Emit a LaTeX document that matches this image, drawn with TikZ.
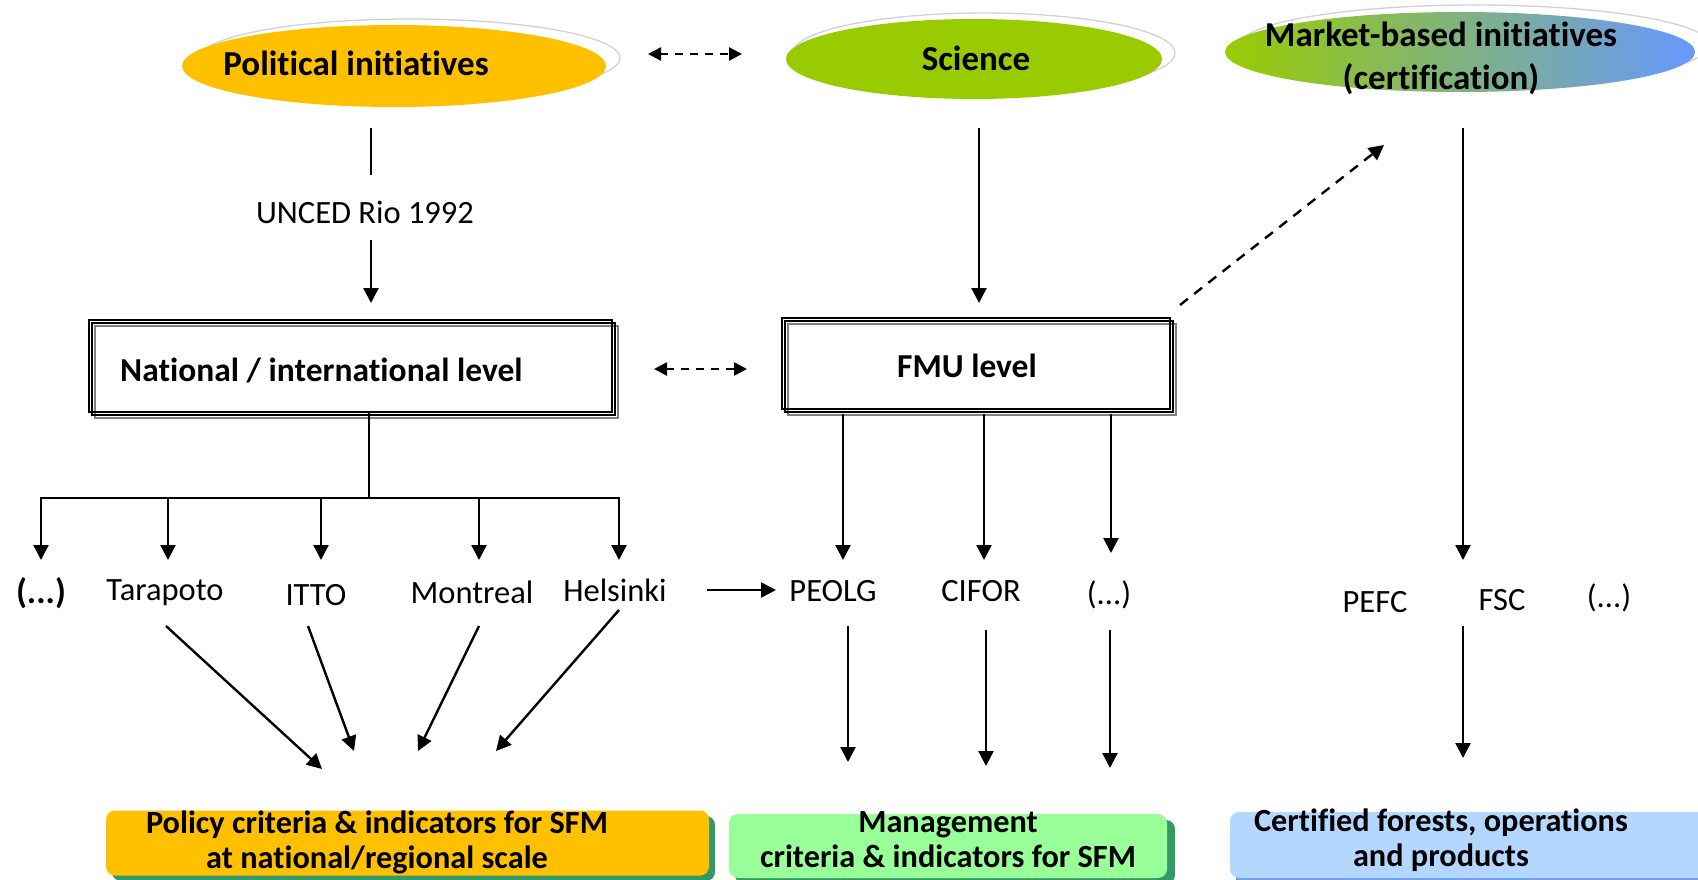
\documentclass[tikz,border=0pt]{standalone}
\usepackage{fontspec}
\setmainfont{Carlito}[RawFeature={-liga;-clig;-dlig}]
\usetikzlibrary{arrows.meta,shapes.geometric,calc}
\definecolor{polyellow}{HTML}{FFC000}
\definecolor{scigreen}{HTML}{99CC00}
\definecolor{mkblue}{HTML}{6699FF}
\definecolor{mgmtgreen}{HTML}{99FF99}
\definecolor{shgreen}{HTML}{339966}
\definecolor{certblue}{HTML}{B3D7FF}
\definecolor{certshadow}{HTML}{6E9CF0}
\begin{document}
\begin{tikzpicture}[x=1pt,y=-1pt,
  btext/.style={font=\fontsize{33.5}{40}\selectfont\bfseries, inner sep=0pt},
  ttext/.style={font=\fontsize{35}{43}\selectfont\bfseries, inner sep=0pt},
  ltext/.style={font=\fontsize{32.5}{38}\selectfont, inner sep=0pt},
  boxtext/.style={font=\fontsize{32.3}{35}\selectfont\bfseries, inner sep=0pt, align=center},
  arr/.style={-{Triangle[length=15pt,width=15pt]}, line width=2.4pt},
  ln/.style={line width=2.4pt},
  dasharr/.style={{Triangle[length=13pt,width=13pt]}-{Triangle[length=13pt,width=13pt]}, line width=2.4pt, dash pattern=on 8pt off 7pt},
  dashone/.style={-{Triangle[length=15pt,width=15pt]}, line width=2.4pt, dash pattern=on 10pt off 8pt},
  halo/.style={draw=gray!35, line width=1.3pt},
  tribox/.style={draw, line width=1.6pt, inner sep=0pt},
  ovalnode/.style={ellipse, inner sep=0pt},
  cibox/.style={rounded corners=9pt, inner sep=0pt}
]
\useasboundingbox (0,0) rectangle (1698,880);
\fill[white] (0,0) rectangle (1698,880);

% ---------- top ellipses ----------
\draw[halo] (410,58) ellipse [x radius=210pt, y radius=39pt];
\node[ovalnode, fill=polyellow, minimum width=424pt, minimum height=82pt] (pol) at (394,66) {};
\node[ttext] (polt) at (356,63) {Political initiatives};

\draw[halo] (984,53) ellipse [x radius=191pt, y radius=40pt];
\node[ovalnode, fill=scigreen, minimum width=376pt, minimum height=80pt] (sci) at (974,59) {};
\node[ttext] (scit) at (976,58) {Science};

\draw[halo] (1475,45) ellipse [x radius=235pt, y radius=40pt];
\node[ovalnode, left color=scigreen, right color=mkblue, minimum width=470pt, minimum height=80pt] (mkt) at (1460,52) {};
\node[ttext, align=center] (mktt) at (1441,58) {Market-based initiatives\\(certification)};

\coordinate (pa) at (648,54);
\coordinate (pb) at (742,54);
\draw[dasharr] (pa) -- (pb);

% ---------- political branch ----------
\coordinate (u1) at (371,128);
\coordinate (u2) at (371,175);
\node[ltext] (unced) at (365,212) {UNCED Rio 1992};
\coordinate (u3) at (371,240);
\coordinate (u4) at (371,303);
\draw[ln] (u1) -- (u2);
\draw[arr] (u3) -- (u4);

% national box
\draw[gray, line width=1.5pt] (95,326) rectangle (618,418);
\draw[line width=1.3pt] (92,323) rectangle (615,415);
\node[tribox, minimum width=523pt, minimum height=92pt] (nat) at (350.5,366) {};
\node[btext, anchor=west] (natt) at (120,371) {National / international level};

% FMU box
\draw[gray, line width=1.5pt] (788,324) rectangle (1176,415);
\draw[line width=1.3pt] (785,321) rectangle (1173,412);
\node[tribox, minimum width=388pt, minimum height=91pt] (fmu) at (976,363.5) {};
\node[btext] (fmut) at (967,366) {FMU level};

\coordinate (na) at (654,369);
\coordinate (nb) at (747,369);
\draw[dasharr] (na) -- (nb);

% science arrow
\coordinate (s1) at (979,128);
\coordinate (s2) at (979,303);
\draw[arr] (s1) -- (s2);

% FMU -> market dashed
\coordinate (m1) at (1180,305);
\coordinate (m2) at (1384,145);
\draw[dashone] (m1) -- (m2);

% market down arrow
\coordinate (k1) at (1463,128);
\coordinate (k2) at (1463,560);
\draw[arr] (k1) -- (k2);

% ---------- national bus ----------
\coordinate (bus) at (369,498);
\draw[ln] (nat.south -| bus) -- (bus);
\draw[ln] (40,498) -- (620,498);
\foreach \x/\n in {41/b1,168/b2,321/b3,479/b4,619/b5}{
  \coordinate (\n) at (\x,560);
  \draw[arr] (\x,497) -- (\n);
}

% labels
\node[ttext] (l0) at (41,593) {(...)};
\node[ltext] (l1) at (165,593) {Tarapoto};
\node[ltext] (l2) at (316,595) {ITTO};
\node[ltext] (l3) at (472,592) {Montreal};
\node[ltext] (l4) at (615,590) {Helsinki};
\node[ltext] (p1) at (833,591) {PEOLG};
\node[ltext] (p2) at (981,591) {CIFOR};
\node[ltext] (p3) at (1109,595) {(...)};
\node[ltext] (c1) at (1375,602) {PEFC};
\node[ltext] (c2) at (1502,600) {FSC};
\node[ltext] (c3) at (1609,598) {(...)};

\coordinate (h1) at (707,590);
\coordinate (h2) at (776,590);
\draw[arr] (h1) -- (h2);

% FMU drops
\foreach \x/\y/\n in {843/560/f1,984/560/f2,1111/553/f3}{
  \coordinate (\n) at (\x,\y);
  \draw[arr] (\x,414) -- (\n);
}

% converging arrows to policy
\coordinate (t1) at (166,626); \coordinate (t2) at (322,769);
\coordinate (i1) at (308,626); \coordinate (i2) at (354,751);
\coordinate (o1) at (479,626); \coordinate (o2) at (418,751);
\coordinate (e1) at (619,610); \coordinate (e2) at (496,751);
\draw[arr] (t1) -- (t2);
\draw[arr] (i1) -- (i2);
\draw[arr] (o1) -- (o2);
\draw[arr] (e1) -- (e2);

% management arrows
\coordinate (g1) at (848,626); \coordinate (g2) at (848,762);
\coordinate (g3) at (986,630); \coordinate (g4) at (986,766);
\coordinate (g5) at (1110,630); \coordinate (g6) at (1110,768);
\draw[arr] (g1) -- (g2);
\draw[arr] (g3) -- (g4);
\draw[arr] (g5) -- (g6);

% certification arrow
\coordinate (q1) at (1463,626); \coordinate (q2) at (1463,758);
\draw[arr] (q1) -- (q2);

% ---------- bottom boxes ----------
\fill[shgreen, rounded corners=9pt] (112,816) rectangle (715,881);
\node[cibox, fill=polyellow, minimum width=603pt, minimum height=65pt] (pbox) at (407.5,843) {};
\node[boxtext] (pboxt) at (377,842) {Policy criteria \& indicators for SFM\\at national/regional scale};

\fill[shgreen, rounded corners=9pt] (735,820) rectangle (1175,884);
\node[cibox, fill=mgmtgreen, minimum width=438pt, minimum height=64pt] (mbox) at (948,846) {};
\node[boxtext] (mboxt) at (948,840) {Management\\criteria \& indicators for SFM};

\fill[certshadow, rounded corners=9pt] (1236,818) rectangle (1720,890);
\node[cibox, fill=certblue, minimum width=490pt, minimum height=66pt] (cbox) at (1475,845) {};
\node[boxtext] (cboxt) at (1441,840) {Certified forests, operations\\and products};
\end{tikzpicture}
\end{document}
